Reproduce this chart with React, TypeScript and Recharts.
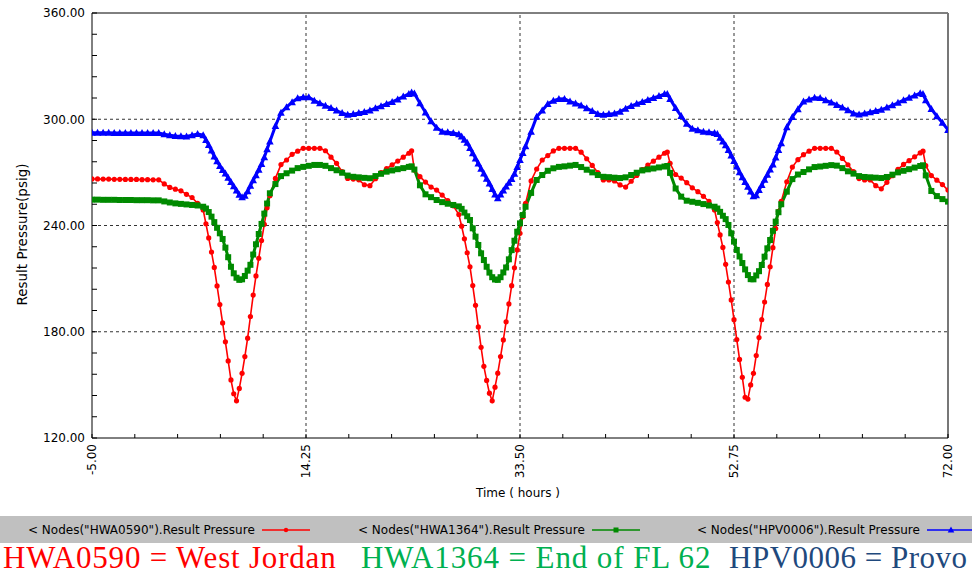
import React from 'react';
import { LineChart, Line, XAxis, YAxis, ReferenceLine, Label } from 'recharts';

// time axis (hours), denser around the morning dips
const hours = [
  -5, -4.5, -4, -3.5, -3, -2.5, -2, -1.5, -1, -0.5, 0, 0.5, 1, 1.5, 2, 2.5, 3, 3.5, 4, 4.5,
  5, 5.25, 5.5, 5.75, 6, 6.25, 6.5, 6.75, 7, 7.25, 7.5, 7.75, 8, 8.25, 8.5, 8.75, 9, 9.25, 9.5, 9.75, 10, 10.25, 10.5, 10.75, 11,
  11.5, 12, 12.5, 13, 13.5, 14, 14.5, 15, 15.5, 16, 16.5, 17, 17.5, 18, 18.5, 19, 19.5, 20, 20.5, 21, 21.5, 22, 22.5, 23, 23.5, 23.75, 24, 24.5, 25, 25.5, 26, 26.5, 27, 27.5,
  28, 28.25, 28.5, 28.75, 29, 29.25, 29.5, 29.75, 30, 30.25, 30.5, 30.75, 31, 31.25, 31.5, 31.75, 32, 32.25, 32.5, 32.75, 33, 33.25, 33.5, 33.75, 34,
  34.5, 35, 35.5, 36, 36.5, 37, 37.5, 38, 38.5, 39, 39.5, 40, 40.5, 41, 41.5, 42, 42.5, 43, 43.5, 44, 44.5, 45, 45.5, 46, 46.5, 46.75, 47, 47.5, 48, 48.5, 49, 49.5, 50, 50.5,
  51, 51.25, 51.5, 51.75, 52, 52.25, 52.5, 52.75, 53, 53.25, 53.5, 53.75, 54, 54.25, 54.5, 54.75, 55, 55.25, 55.5, 55.75, 56, 56.25, 56.5, 56.75, 57,
  57.5, 58, 58.5, 59, 59.5, 60, 60.5, 61, 61.5, 62, 62.5, 63, 63.5, 64, 64.5, 65, 65.5, 66, 66.5, 67, 67.5, 68, 68.5, 69, 69.5, 69.75, 70, 70.5, 71, 71.5, 72,
];

// HWA0590 (West Jordan)
const hwa0590 = [
  266.3, 266.3, 266.2, 266.2, 266.1, 266.1, 266, 266, 266, 265.9, 265.9, 265.8, 265.8, 263.5, 261.5, 260.5, 259.6, 257.6, 255.8, 252.5,
  248.8, 241, 233, 225, 216.3, 205.9, 195.4, 185, 174.3, 163.5, 152.8, 145, 141, 148, 156.5, 166, 176.4, 188.6, 200.7, 211.5, 221.5, 231.5, 240.7, 250, 256.8,
  266.6, 274.4, 277, 280.2, 282, 283.6, 283.6, 283.6, 283.6, 282.2, 278.6, 275.1, 270.4, 266.6, 266.2, 265.8, 263, 262.5, 266.4, 269.9, 272.1, 274.3, 276.4, 278.6, 280.8, 282.2, 271.3, 267.6, 264.5, 261.7, 260, 257.2, 254, 251.1,
  246.2, 239.6, 232.5, 224.6, 216.7, 206.1, 194.9, 182.7, 171.2, 160.5, 152.5, 145.3, 141, 148.7, 156.6, 166, 175.4, 185.6, 195.7, 206, 216.1, 226.2, 235.6, 245, 252.5,
  265.2, 271.9, 277, 279.5, 282.1, 283.6, 283.6, 283.6, 283.6, 281.4, 277.7, 273.9, 269.9, 265.7, 265.7, 265.2, 262.9, 261.7, 265, 268.3, 271.6, 274.1, 276.3, 278.6, 280.8, 281.5, 275.1, 268.8, 266.8, 264.2, 261.3, 259.1, 256.5, 253.6,
  248.8, 241.7, 234.7, 227.6, 218.1, 208.1, 198, 186.8, 175.6, 164.4, 154.3, 143, 142, 150, 156.5, 166.6, 176.7, 186.8, 196.8, 206.7, 216.7, 227.5, 238.3, 248, 253.6,
  264.7, 273, 277.2, 280, 282, 283.6, 283.6, 283.6, 283.6, 281.5, 277.9, 274.3, 270.4, 266.5, 265.7, 265.7, 262.5, 260.7, 264.4, 268.1, 271.7, 274.5, 276.6, 278.8, 281, 282, 273.8, 268.2, 265.6, 263.1, 260,
];

// HWA1364 (End of FL 62)
const hwa1364 = [
  254.6, 254.6, 254.5, 254.5, 254.5, 254.4, 254.4, 254.4, 254.3, 254.3, 254.3, 254.2, 254.2, 253.6, 253, 252.5, 252.2, 251.9, 251.6, 251.3,
  250.6, 249.6, 247.6, 245, 241.9, 238.7, 235.6, 232.4, 227.5, 222.1, 216.7, 213, 210.5, 209.3, 209.6, 211.5, 214.5, 217.8, 223.6, 229.4, 235.2, 240.9, 246.7, 252.4, 258.2,
  263.4, 267.9, 269.5, 271, 272.4, 273.1, 273.7, 274.2, 274.2, 273.7, 272.4, 271.2, 269.8, 268.2, 267.5, 267.2, 266.9, 266.7, 267.9, 269.2, 270.4, 271.1, 271.8, 272.4, 273.1, 273.4, 271.6, 262.7, 257.6, 256, 254.4, 253.2, 252.3, 251.6,
  250.8, 249.4, 247.3, 245.2, 243.1, 238.4, 233.7, 229, 224.3, 220.5, 216.7, 213.4, 210.8, 209.5, 209.3, 210.8, 213.5, 216.3, 220.9, 226.1, 231.4, 236.5, 241.2, 245.9, 250.6,
  258.4, 265.7, 268.5, 270.9, 272.3, 273.1, 273.4, 273.8, 274.2, 273, 271.5, 270, 268.5, 267.5, 267.3, 267, 266.8, 267.2, 268.5, 269.8, 271.1, 271.7, 272.2, 272.8, 273.3, 273.6, 269.7, 260.9, 256.3, 254, 253.4, 252.8, 252.1, 251.3,
  250.6, 249.6, 247.7, 245.5, 243.6, 240.3, 235.6, 230.9, 226.2, 222.5, 218.8, 215.2, 212, 209.7, 209.6, 211.8, 214.2, 217.7, 222.4, 227.1, 231.8, 237, 242.2, 247.5, 252,
  259.1, 266.2, 268.8, 270.2, 271.7, 273, 273.3, 273.7, 274.1, 273.8, 272.4, 270.6, 269.3, 267.9, 267.4, 267.2, 267, 266.8, 267.4, 268.7, 270, 270.9, 271.8, 272.7, 273.6, 274, 268.3, 259.5, 256.6, 254.9, 253.5,
];

// HPV0006 (Provo)
const hpv0006 = [
  292.4, 292.4, 292.4, 292.4, 292.3, 292.3, 292.3, 292.3, 292.2, 292.2, 292.2, 292.2, 292.2, 291.6, 291, 290.5, 290.4, 290.3, 291, 291.7,
  291, 288.3, 285.4, 282.3, 279, 276.3, 273.6, 271.3, 269.3, 266.9, 264.5, 262.1, 259.8, 257.3, 256, 256.8, 259.3, 262.4, 265.5, 268.4, 271.5, 274.7, 278.5, 283, 287.5,
  296.2, 303.7, 306.8, 309.6, 311.9, 312.4, 312.4, 310.5, 309, 307.6, 306.3, 304.9, 303.5, 302.5, 302.9, 303.6, 304.1, 305, 306.2, 307.4, 308.6, 309.8, 311.2, 312.8, 314.3, 315.1, 314.5, 309, 303.8, 298.9, 295.2, 293, 292.7, 292.3,
  291.6, 290.3, 288.4, 286.7, 283.8, 280.8, 277.9, 275, 272.1, 269.3, 266.4, 263.7, 260.6, 257.5, 255.4, 257.5, 259.8, 262, 264.1, 266.3, 269.2, 273.1, 277, 280.9, 284.8,
  293, 301.4, 305, 308.6, 310.5, 311.4, 311.5, 310, 308.9, 307.7, 306.2, 304.6, 303, 302.6, 302.9, 303.3, 304.3, 306, 307.5, 308.7, 309.8, 310.9, 312, 313.1, 314.3, 314.2, 311.5, 306.3, 301.8, 297.5, 294.6, 293.8, 293, 292.6,
  292.2, 291.7, 289.6, 287.5, 285.3, 282.6, 279.5, 276.4, 273.3, 270.1, 267.3, 264.6, 261.9, 259.2, 256.5, 257.1, 260, 262.9, 265.8, 268.7, 271.6, 274.5, 278.4, 282.7, 286.5,
  295.5, 301.3, 305.7, 310, 311.1, 312.2, 312, 310.7, 309.5, 308.1, 306.6, 305.1, 303.3, 302.7, 303.3, 304, 304.7, 305.4, 306.6, 307.9, 309.3, 310.8, 312.1, 313.4, 314.7, 314.2, 310.7, 305.8, 301.7, 298, 294,
];

const yTicks = [120, 132, 144, 156, 168, 180, 192, 204, 216, 228, 240, 252, 264, 276, 288, 300, 312, 324, 336, 348, 360];
const yLabelled = [120, 180, 240, 300, 360];
const xTicks = [-5, -1.15, 2.7, 6.55, 10.4, 14.25, 18.1, 21.95, 25.8, 29.65, 33.5, 37.35, 41.2, 45.05, 48.9, 52.75, 56.6, 60.45, 64.3, 68.15, 72];
const xLabelled = [-5, 14.25, 33.5, 52.75, 72];
const gridY = [180, 240, 300];
const gridX = [14.25, 33.5, 52.75];

const legendNames = [
  '< Nodes("HWA0590").Result Pressure',
  '< Nodes("HWA1364").Result Pressure',
  '< Nodes("HPV0006").Result Pressure',
];
const captions = ['HWA0590 = West Jordan', 'HWA1364 = End of FL 62', 'HPV0006 = Provo'];

const RED = '#ff0000';
const GREEN = '#008a00';
const BLUE = '#0000ff';
const SANS = '"DejaVu Sans", Tahoma, sans-serif';

const data = hours.map((t, i) => ({
  t,
  westJordan: hwa0590[i],
  endOfFL62: hwa1364[i],
  provo: hpv0006[i],
}));

const redDot = (p: any) => <circle key={`r${p.index}`} cx={p.cx} cy={p.cy} r={2.6} fill={RED} />;
const greenDot = (p: any) => (
  <rect key={`g${p.index}`} x={p.cx - 3} y={p.cy - 3} width={6} height={6} fill={GREEN} />
);
const blueDot = (p: any) => (
  <polygon
    key={`b${p.index}`}
    points={`${p.cx},${p.cy - 4} ${p.cx - 3.8},${p.cy + 3} ${p.cx + 3.8},${p.cy + 3}`}
    fill={BLUE}
  />
);

const YTick = ({ x, y, payload }: any) => (
  <g>
    <line x1={x} x2={x + 5} y1={y} y2={y} stroke="#000" />
    {yLabelled.includes(payload.value) && (
      <text x={x - 7} y={y} dy="0.36em" textAnchor="end" fontSize={12} fontFamily={SANS} fill="#000">
        {payload.value.toFixed(2)}
      </text>
    )}
  </g>
);

const XTick = ({ x, y, payload }: any) => (
  <g>
    <line x1={x} x2={x} y1={y} y2={y - 4} stroke="#000" />
    {xLabelled.includes(payload.value) && (
      <text
        transform={`translate(${x},${y + 6}) rotate(-90)`}
        dy="0.36em"
        textAnchor="end"
        fontSize={12}
        fontFamily={SANS}
        fill="#000"
      >
        {payload.value.toFixed(2)}
      </text>
    )}
  </g>
);

const legendLeft = [28, 358, 697];
const legendColors = [RED, GREEN, BLUE];
const captionLeft = [3, 361, 729];
const captionSpacing = [0.8, 0.9, 0.5];
const captionColors = ['#ff0000', '#00b050', '#1f497d'];

const LegendMarker = ({ i }: { i: number }) => (
  <svg width={50} height={10} style={{ marginLeft: 7 }}>
    <line x1={0} x2={48} y1={5} y2={5} stroke={legendColors[i]} strokeWidth={1.3} />
    {i === 0 && <circle cx={24} cy={5} r={2.2} fill={RED} />}
    {i === 1 && <rect x={21.5} y={2.5} width={5} height={5} fill={GREEN} />}
    {i === 2 && <polygon points="24,1.5 20.7,7.5 27.3,7.5" fill={BLUE} />}
  </svg>
);

export default function App() {
  return (
    <div style={{ position: 'absolute', left: 0, top: 0, width: 972, height: 575, background: '#fff', overflow: 'hidden' }}>
      <LineChart width={972} height={510} data={data} margin={{ top: 13, right: 24, left: 10, bottom: 10 }}>
        {gridY.map((v) => (
          <ReferenceLine key={`gy${v}`} y={v} stroke="#333" strokeDasharray="3 3" />
        ))}
        {gridX.map((v) => (
          <ReferenceLine key={`gx${v}`} x={v} stroke="#333" strokeDasharray="3 3" />
        ))}
        <ReferenceLine y={360} stroke="#000" />
        <ReferenceLine x={72} stroke="#777" strokeWidth={2} />
        <XAxis
          dataKey="t"
          type="number"
          domain={[-5, 72]}
          ticks={xTicks}
          interval={0}
          tick={<XTick />}
          tickSize={0}
          tickMargin={0}
          tickLine={false}
          axisLine={{ stroke: '#000' }}
          height={62}
          allowDataOverflow
        >
          <Label
            content={({ viewBox }: any) => (
              <text
                x={viewBox.x + viewBox.width / 2 - 2}
                y={viewBox.y + 59}
                textAnchor="middle"
                fontSize={12}
                fontFamily={SANS}
                fill="#000"
              >
                Time ( hours )
              </text>
            )}
          />
        </XAxis>
        <YAxis
          type="number"
          domain={[120, 360]}
          ticks={yTicks}
          interval={0}
          tick={<YTick />}
          tickSize={0}
          tickMargin={0}
          tickLine={false}
          axisLine={{ stroke: '#000' }}
          width={82}
          allowDataOverflow
        >
          <Label
            content={({ viewBox }: any) => (
              <text
                transform={`translate(${viewBox.x + 17},${viewBox.y + viewBox.height / 2 + 9}) rotate(-90)`}
                textAnchor="middle"
                fontSize={13.5}
                fontFamily={SANS}
                fill="#000"
              >
                Result Pressure(psig)
              </text>
            )}
          />
        </YAxis>
        <Line
          dataKey="westJordan"
          stroke={RED}
          strokeWidth={1.6}
          dot={redDot}
          activeDot={false}
          isAnimationActive={false}
        />
        <Line
          dataKey="endOfFL62"
          stroke={GREEN}
          strokeWidth={3}
          dot={greenDot}
          activeDot={false}
          isAnimationActive={false}
        />
        <Line
          dataKey="provo"
          stroke={BLUE}
          strokeWidth={3}
          dot={blueDot}
          activeDot={false}
          isAnimationActive={false}
        />
      </LineChart>

      <div style={{ position: 'absolute', left: 0, top: 516, width: 972, height: 27, background: '#c0c0c0' }}>
        {legendNames.map((name, i) => (
          <div
            key={name}
            style={{
              position: 'absolute',
              left: legendLeft[i],
              top: 0,
              height: 27,
              display: 'flex',
              alignItems: 'center',
              fontFamily: SANS,
              fontSize: 12,
              color: '#000',
              whiteSpace: 'nowrap',
            }}
          >
            <span>{name}</span>
            <LegendMarker i={i} />
          </div>
        ))}
      </div>

      {captions.map((c, i) => (
        <div
          key={c}
          style={{
            position: 'absolute',
            left: captionLeft[i],
            top: 540,
            fontFamily: '"Liberation Serif", "Times New Roman", serif',
            fontSize: 31,
            lineHeight: 'normal',
            letterSpacing: captionSpacing[i],
            color: captionColors[i],
            whiteSpace: 'nowrap',
          }}
        >
          {c}
        </div>
      ))}
    </div>
  );
}
